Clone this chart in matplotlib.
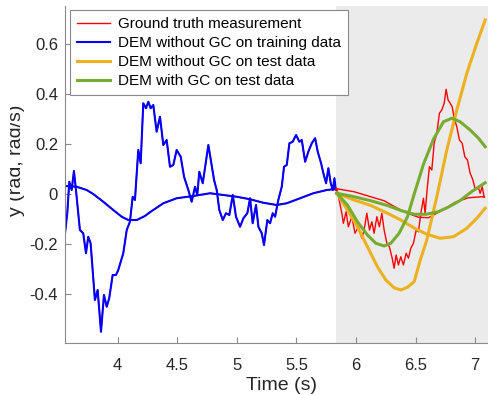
import numpy as np
import matplotlib.pyplot as plt
from matplotlib.transforms import Bbox, TransformedBbox

plt.rcParams['font.family'] = ['Liberation Sans', 'DejaVu Sans']

# training part (jagged output and smooth output)
t_train_a = [3.558, 3.577, 3.594, 3.614, 3.633, 3.650, 3.683, 3.711, 3.734, 3.753,
             3.773, 3.809, 3.832, 3.860, 3.885, 3.908, 3.929, 3.958, 3.986, 4.005,
             4.047, 4.076, 4.103, 4.126, 4.145, 4.173, 4.193, 4.215, 4.238, 4.257,
             4.277, 4.299, 4.327, 4.355, 4.383, 4.411, 4.439, 4.467, 4.495, 4.529,
             4.557, 4.593, 4.621, 4.649, 4.668, 4.685, 4.714, 4.761, 4.809, 4.831,
             4.853, 4.882, 4.909, 4.937, 4.966, 4.993, 5.027, 5.055, 5.088, 5.111,
             5.133, 5.161, 5.181, 5.209, 5.228, 5.256, 5.279, 5.301, 5.321, 5.348,
             5.377, 5.396, 5.419, 5.441, 5.469, 5.497, 5.525, 5.545, 5.573, 5.600,
             5.629, 5.657, 5.679, 5.707, 5.726, 5.749, 5.768, 5.788, 5.805, 5.819,
             5.830]
y_train_a = [-0.156, -0.076, 0.050, 0.017, 0.093, 0.017, -0.143, -0.156, -0.236, -0.170,
             -0.196, -0.423, -0.383, -0.550, -0.403, -0.450, -0.416, -0.323, -0.323, -0.303,
             -0.236, -0.143, -0.110, -0.010, -0.023, 0.177, 0.124, 0.364, 0.344, 0.370,
             0.344, 0.357, 0.250, 0.310, 0.197, 0.217, 0.110, 0.117, 0.177, 0.150,
             0.070, 0.017, -0.030, 0.030, -0.003, 0.090, 0.044, 0.197, 0.057, 0.017,
             -0.063, -0.103, -0.076, -0.083, -0.003, -0.090, -0.130, -0.096, -0.076, -0.016,
             -0.116, -0.043, -0.130, -0.156, -0.203, -0.103, -0.116, -0.076, -0.090, -0.023,
             0.030, 0.110, 0.117, 0.204, 0.210, 0.237, 0.210, 0.217, 0.130, 0.170,
             0.204, 0.224, 0.170, 0.124, 0.084, 0.044, 0.104, 0.044, 0.017, 0.064,
             0.017]
t_train_b = [3.558, 3.656, 3.740, 3.795, 3.879, 3.963, 4.034, 4.089, 4.160, 4.229,
             4.271, 4.383, 4.495, 4.635, 4.775, 4.887, 4.999, 5.111, 5.222, 5.335,
             5.419, 5.531, 5.642, 5.755, 5.830]
y_train_b = [0.033, 0.030, 0.017, 0.001, -0.030, -0.063, -0.090, -0.103, -0.103, -0.087,
             -0.072, -0.036, -0.016, -0.007, 0.004, -0.003, -0.010, -0.020, -0.034, -0.043,
             -0.036, -0.016, 0.004, 0.017, 0.021]

# test part: measurement
t_meas_a = [5.830, 5.839, 5.881, 5.894, 5.917, 5.936, 5.965, 5.992, 6.020, 6.049,
            6.068, 6.091, 6.113, 6.133, 6.152, 6.175, 6.196, 6.217, 6.236, 6.259,
            6.280, 6.301, 6.320, 6.337, 6.356, 6.376, 6.398, 6.421, 6.440, 6.460,
            6.482, 6.505, 6.524, 6.544, 6.566, 6.580, 6.599, 6.616, 6.636, 6.656,
            6.678, 6.700, 6.720, 6.740, 6.756, 6.773, 6.790, 6.807, 6.824, 6.846,
            6.868, 6.891, 6.913, 6.935, 6.958, 6.981, 7.002, 7.025, 7.042, 7.059,
            7.075]
y_meas_a = [0.017, 0.024, -0.076, -0.116, -0.070, -0.130, -0.090, -0.156, -0.130, -0.176,
            -0.143, -0.076, -0.143, -0.110, -0.156, -0.090, -0.130, -0.076, -0.143, -0.196,
            -0.210, -0.250, -0.296, -0.243, -0.283, -0.250, -0.283, -0.236, -0.256, -0.216,
            -0.196, -0.143, -0.150, -0.076, -0.016, -0.076, 0.030, 0.110, 0.097, 0.204,
            0.244, 0.324, 0.337, 0.364, 0.420, 0.377, 0.364, 0.350, 0.304, 0.270,
            0.217, 0.204, 0.150, 0.137, 0.084, 0.057, 0.017, 0.030, 0.004, 0.030,
            -0.010]
t_meas_b = [5.830, 5.839, 5.984, 6.124, 6.236, 6.348, 6.432, 6.524, 6.608, 6.720,
            6.832, 6.944, 7.056, 7.078]
y_meas_b = [0.021, 0.022, 0.010, -0.010, -0.026, -0.056, -0.076, -0.092, -0.094, -0.065,
            -0.032, -0.014, -0.010, -0.012]

# test part: DEM without GC
t_nogc_a = [5.839, 5.928, 6.012, 6.096, 6.180, 6.250, 6.320, 6.376, 6.432, 6.488,
            6.538, 6.594, 6.678, 6.762, 6.846, 6.930, 7.014, 7.084]
y_nogc_a = [0.004, -0.063, -0.130, -0.210, -0.290, -0.343, -0.374, -0.383, -0.372, -0.350,
            -0.265, -0.183, -0.010, 0.177, 0.337, 0.484, 0.604, 0.697]
t_nogc_b = [5.839, 5.984, 6.124, 6.264, 6.376, 6.488, 6.594, 6.706, 6.818, 6.930,
            7.014, 7.084]
y_nogc_b = [0.004, -0.023, -0.045, -0.076, -0.103, -0.135, -0.160, -0.176, -0.170, -0.136,
            -0.096, -0.056]

# test part: DEM with GC
t_gc_a = [5.839, 5.928, 6.012, 6.096, 6.166, 6.236, 6.292, 6.362, 6.432, 6.488,
          6.566, 6.650, 6.734, 6.804, 6.874, 6.958, 7.028, 7.084]
y_gc_a = [0.004, -0.043, -0.110, -0.163, -0.196, -0.207, -0.196, -0.156, -0.090, 0.000,
          0.120, 0.220, 0.290, 0.304, 0.290, 0.257, 0.224, 0.190]
t_gc_b = [5.839, 5.984, 6.124, 6.264, 6.376, 6.488, 6.589, 6.689, 6.773, 6.874,
          6.975, 7.084]
y_gc_b = [0.004, -0.010, -0.026, -0.045, -0.065, -0.080, -0.080, -0.070, -0.052, -0.025,
          0.012, 0.046]

legend_labels = ['Ground truth measurement', 'DEM without GC on training data',
                 'DEM without GC on test data', 'DEM with GC on test data']

red, blue, orange, green = '#ff0000', '#0000ff', '#edb120', '#77ac30'

fig = plt.figure(figsize=(4.89, 3.95), dpi=100)
ax = fig.add_axes([65 / 489, 1 - 343 / 395, 434 / 489, 337 / 395])

# shaded test region
ax.axvspan(5.833, 7.3, color='#ebebeb', lw=0, zorder=0)

l1, = ax.plot(t_train_a, y_train_a, color=red, lw=1.0)
ax.plot(t_train_b, y_train_b, color=red, lw=1.0)
l2, = ax.plot(t_train_a, y_train_a, color=blue, lw=1.5)
ax.plot(t_train_b, y_train_b, color=blue, lw=1.5)
ax.plot(t_meas_a, y_meas_a, color=red, lw=1.0)
ax.plot(t_meas_b, y_meas_b, color=red, lw=1.0)
l3, = ax.plot(t_nogc_a, y_nogc_a, color=orange, lw=2.2)
ax.plot(t_nogc_b, y_nogc_b, color=orange, lw=2.2)
l4, = ax.plot(t_gc_a, y_gc_a, color=green, lw=2.2)
ax.plot(t_gc_b, y_gc_b, color=green, lw=2.2)

ax.set_xlim(3.558, 7.2)
ax.set_ylim(-0.595, 0.753)
ax.set_xticks([4, 4.5, 5, 5.5, 6, 6.5, 7])
ax.set_xticklabels(['4', '4.5', '5', '5.5', '6', '6.5', '7'])
ax.set_yticks([-0.4, -0.2, 0, 0.2, 0.4, 0.6])
ax.set_yticklabels(['-0.4', '-0.2', '0', '0.2', '0.4', '0.6'])

for s in ['top', 'right']:
    ax.spines[s].set_visible(False)
for s in ['left', 'bottom']:
    ax.spines[s].set_color('#8a8a8a')
    ax.spines[s].set_linewidth(0.8)
ax.tick_params(direction='in', length=4, width=0.8, color='#8a8a8a',
               labelcolor='#262626', labelsize=12)
ax.tick_params(axis='x', pad=10.5)
ax.tick_params(axis='y', pad=5)

ax.set_xlabel('Time (s)', fontsize=14, color='#262626', labelpad=3.5)
ylab = fig.text(16.5 / 489, 0.595, 'y (rad, rad/s)', rotation=90, ha='center',
                va='center', fontsize=14, color='#262626')
ylab.set_clip_on(True)
ylab.set_clip_box(TransformedBbox(Bbox([[10 / 489, 0], [1, 1]]), fig.transFigure))

leg = ax.legend([l1, l2, l3, l4], legend_labels, loc='upper left',
                bbox_to_anchor=(5 / 434, 1 - 4 / 337), borderaxespad=0,
                fontsize=11, fancybox=False, framealpha=1, edgecolor='#8a8a8a',
                handlelength=2.2, handletextpad=0.5, labelspacing=0.33,
                borderpad=0.45)
leg.get_frame().set_linewidth(0.8)

fig.savefig('out.png', dpi=100)
